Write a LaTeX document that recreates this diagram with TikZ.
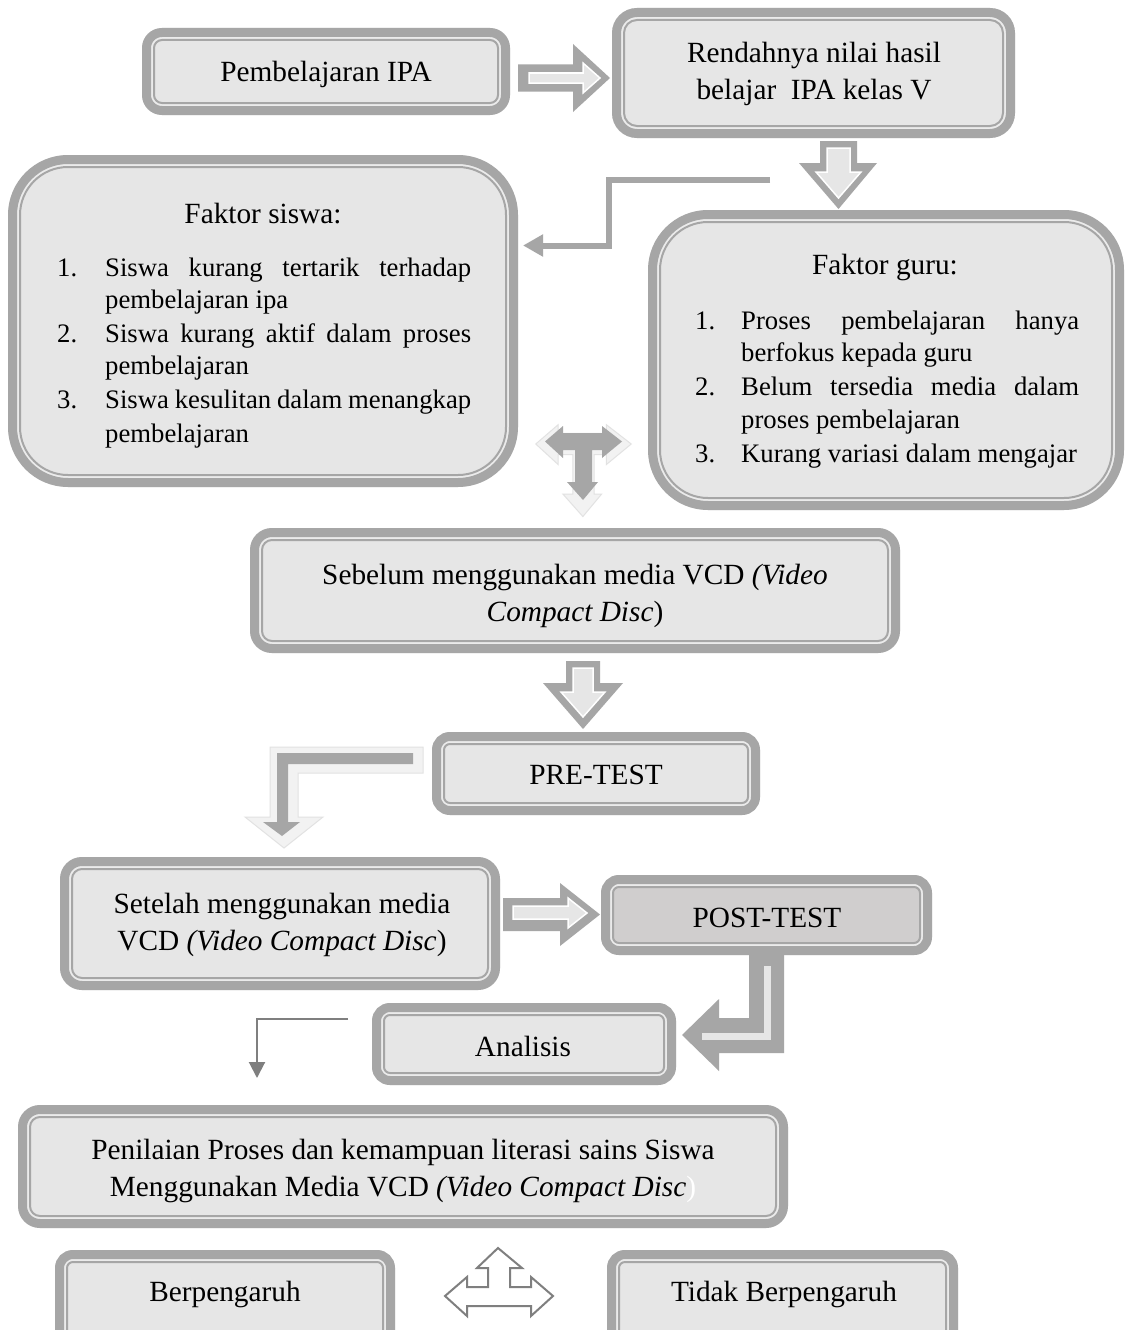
\documentclass[tikz,border=0pt]{standalone}
\usepackage{fontspec}
\setmainfont{Liberation Serif}
\usetikzlibrary{arrows.meta}
\definecolor{band}{HTML}{A6A6A6}
\definecolor{gapc}{HTML}{EBEBEB}
\definecolor{boxf}{HTML}{E6E6E6}
\definecolor{postf}{HTML}{D0CECE}
\definecolor{lite}{HTML}{F2F2F2}
\definecolor{liteedge}{HTML}{E2E2E2}
\definecolor{dgray}{HTML}{7F7F7F}
\newcommand\dbox[6]{%
  \pgfmathsetmacro\rA{#5}\pgfmathsetmacro\rB{max(#5-4.5,1)}\pgfmathsetmacro\rC{max(#5-12,1)}%
  \fill[gapc, rounded corners=\rA pt] (#1,#2) rectangle (#3,#4);
  \draw[band, line width=9pt, rounded corners=\rB pt] ({#1+4.5},{#2+4.5}) rectangle ({#3-4.5},{#4-4.5});
  \draw[band, line width=2pt, fill=#6, rounded corners=\rC pt] ({#1+12},{#2+12}) rectangle ({#3-12},{#4-12});
}
\tikzset{
  txt/.style={font=\fontsize{29.3}{37}\selectfont, align=center, inner sep=0pt},
  lst/.style={font=\fontsize{26.7}{33}\selectfont, inner sep=0pt, anchor=base west},
  blk/.style={fill=band, draw=none},
  blkin/.style={fill=boxf, draw=white, line width=1.5pt, line join=miter},
  litebk/.style={fill=lite, draw=liteedge, line width=1pt, line join=miter},
  thinarrow/.style={band, line width=6pt, line join=miter, -{Triangle[length=20pt,width=21pt]}},
  darrow/.style={dgray, line width=2pt, -{Triangle[length=16pt,width=16pt]}},
  outarrow/.style={draw=dgray, fill=white, line width=2pt, line join=miter}
}
\begin{document}
\begin{tikzpicture}[x=1pt,y=-1pt]
\useasboundingbox (0,0) rectangle (1124,1330);
\clip (0,0) rectangle (1124,1330);
\fill[white] (0,0) rectangle (1124,1330);

% ---------- boxes ----------
\dbox{142}{28}{510}{115}{20}{boxf}
\node[txt] (pa) at (326,74) {Pembelajaran IPA};

\dbox{612}{8}{1015}{138}{25}{boxf}
\node[txt] (rn) at (814,74) {Rendahnya nilai hasil\\belajar\ \ IPA kelas V};

\dbox{8}{155}{518}{487}{60}{boxf}
\node[txt] (fs) at (263,214) {Faktor siswa:};
\node[lst] (fs1n) at (57,276) {1.};
\node[lst] (fs1a) at (105,276) {\makebox[366pt][s]{Siswa kurang tertarik terhadap}};
\node[lst] (fs1b) at (105,308) {pembelajaran ipa};
\node[lst] (fs2n) at (57,342) {2.};
\node[lst] (fs2a) at (105,342) {\makebox[366pt][s]{Siswa kurang aktif dalam proses}};
\node[lst] (fs2b) at (105,374) {pembelajaran};
\node[lst] (fs3n) at (57,408) {3.};
\node[lst] (fs3a) at (105,408) {\makebox[366pt][s]{Siswa kesulitan dalam menangkap}};
\node[lst] (fs3b) at (105,442) {pembelajaran};

\dbox{648}{210}{1124}{510}{60}{boxf}
\node[txt] (fg) at (885,267) {Faktor guru:};
\node[lst] (fg1n) at (695,329) {1.};
\node[lst] (fg1a) at (741,329) {\makebox[338pt][s]{Proses pembelajaran hanya}};
\node[lst] (fg1b) at (741,361) {berfokus kepada guru};
\node[lst] (fg2n) at (695,395) {2.};
\node[lst] (fg2a) at (741,395) {\makebox[338pt][s]{Belum tersedia media dalam}};
\node[lst] (fg2b) at (741,428) {proses pembelajaran};
\node[lst] (fg3n) at (695,462) {3.};
\node[lst] (fg3a) at (741,462) {Kurang variasi dalam mengajar};

\dbox{250}{528}{900}{653}{22}{boxf}
\node[txt] (sb) at (575,596) {Sebelum menggunakan media VCD \textit{(Video}\\\textit{Compact Disc})};

\dbox{432}{732}{760}{815}{18}{boxf}
\node[txt] (pre) at (596,775) {PRE-TEST};

\dbox{60}{857}{500}{990}{22}{boxf}
\node[txt] (st) at (282,925) {Setelah menggunakan media\\VCD \textit{(Video Compact Disc})};

\dbox{601}{875}{932}{955}{18}{postf}
\node[txt] (post) at (767,918) {POST-TEST};

\dbox{372}{1003}{676}{1085}{18}{boxf}
\node[txt] (an) at (523,1046) {Analisis};

\dbox{18}{1105}{788}{1228}{22}{boxf}
\node[txt] (pn) at (403,1171) {Penilaian Proses dan kemampuan literasi sains Siswa\\Menggunakan Media VCD \textit{(Video Compact Disc}\textcolor{white}{)}};

\dbox{55}{1250}{395}{1360}{18}{boxf}
\node[txt] (bp) at (225,1294) {Berpengaruh};

\dbox{607}{1250}{958}{1360}{18}{boxf}
\node[txt] (tb) at (784,1294) {Tidak Berpengaruh};

% ---------- block arrows ----------
% A: right arrow
\fill[blk] (518,64.5) -- (573,64.5) -- (573,44) -- (610,78) -- (573,112) -- (573,91.5) -- (518,91.5) -- cycle;
\filldraw[blkin] (529,73) -- (583,73) -- (583,63) -- (600,78) -- (583,93) -- (583,83) -- (529,83) -- cycle;

% B: down arrow
\fill[blk] (820,141) -- (857,141) -- (857,163) -- (877,163) -- (838.5,209) -- (799,163) -- (820,163) -- cycle;
\filldraw[blkin] (827,148) -- (850,148) -- (850,172) -- (861,172) -- (838.5,198) -- (816,172) -- (827,172) -- cycle;

% C: thin elbow arrow
\coordinate (c1) at (770,179.5);
\coordinate (c2) at (523,245.5);
\draw[thinarrow] (c1) -- (609,179.5) |- (c2);

% D: left-right-down arrow
\begin{scope}[shift={(583.5,444)}, scale=1.24]
\filldraw[litebk] (-38.5,0) -- (-20.5,-15.5) -- (-20.5,-8.5) -- (18.5,-8.5) -- (18.5,-15.5) -- (38.5,0) -- (18.5,16.5) -- (18.5,8.5) -- (8.5,8.5) -- (8.5,40.5) -- (14.5,40.5) -- (-0.5,58.5) -- (-16.5,40.5) -- (-8.5,40.5) -- (-8.5,8.5) -- (-20.5,8.5) -- (-20.5,16.5) -- cycle;
\end{scope}
\begin{scope}[shift={(583.5,441.5)}]
\fill[blk] (-38.5,0) -- (-20.5,-15.5) -- (-20.5,-8.5) -- (18.5,-8.5) -- (18.5,-15.5) -- (38.5,0) -- (18.5,16.5) -- (18.5,8.5) -- (8.5,8.5) -- (8.5,40.5) -- (14.5,40.5) -- (-0.5,58.5) -- (-16.5,40.5) -- (-8.5,40.5) -- (-8.5,8.5) -- (-20.5,8.5) -- (-20.5,16.5) -- cycle;
\end{scope}

% E: down arrow
\fill[blk] (566,661) -- (600,661) -- (600,683) -- (623,683) -- (583,729) -- (543,683) -- (566,683) -- cycle;
\filldraw[blkin] (573,668) -- (593,668) -- (593,692) -- (605,692) -- (583,717) -- (561,692) -- (573,692) -- cycle;

% F: L-shaped arrow
\filldraw[litebk] (270,747) -- (423,747) -- (423,773) -- (298,773) -- (298,817) -- (323,817) -- (284,848) -- (245,817) -- (270,817) -- cycle;
\fill[blk] (277,753) -- (413,753) -- (413,764) -- (288,764) -- (288,822) -- (300,822) -- (282,836) -- (263,822) -- (277,822) -- cycle;

% G: right arrow
\fill[blk] (503,898) -- (560,898) -- (560,883) -- (600,914.5) -- (560,946) -- (560,931) -- (503,931) -- cycle;
\filldraw[blkin] (513,906) -- (568,906) -- (568,898) -- (587,913) -- (568,928) -- (568,919) -- (513,919) -- cycle;

% H: bent arrow down-left
\fill[blk] (749,952) -- (784,952) -- (784,1053) -- (719,1053) -- (719,1071) -- (682,1035) -- (719,999) -- (719,1018) -- (749,1018) -- cycle;
\draw[boxf, line width=7pt, line join=miter] (767,966) -- (767,1036) -- (702,1036);

% I: thin dark elbow arrow
\coordinate (i1) at (348,1019);
\coordinate (i2) at (257,1078);
\draw[darrow] (i1) -| (i2);

% J: outlined left-right-up arrow
\filldraw[outarrow] (498,1248) -- (522,1268) -- (510,1268) -- (510,1287) -- (531,1287) -- (531,1277) -- (553,1296) -- (531,1316) -- (531,1306) -- (467,1306) -- (467,1316) -- (445,1296) -- (467,1277) -- (467,1287) -- (488,1287) -- (488,1268) -- (477,1268) -- cycle;
\end{tikzpicture}
\end{document}
